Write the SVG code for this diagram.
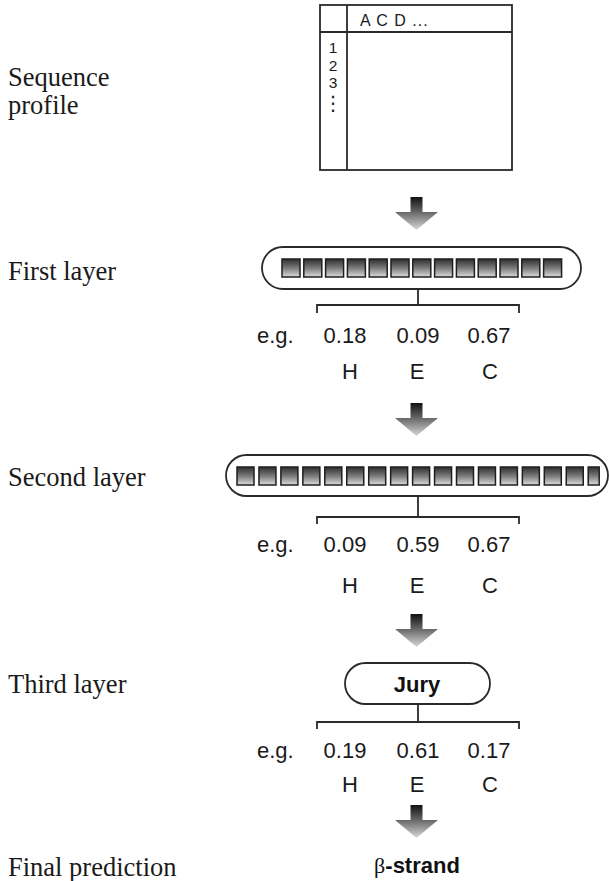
<svg xmlns="http://www.w3.org/2000/svg" width="609" height="881" viewBox="0 0 609 881">
<style>
.lbl{font-family:"Liberation Serif","Times New Roman",serif;font-size:26.5px;fill:#1a1a1a}
.val{font-family:"Liberation Sans",Arial,sans-serif;font-size:22px;fill:#1a1a1a}
.tbl{font-family:"Liberation Sans",Arial,sans-serif;fill:#1a1a1a}
.bold{font-family:"Liberation Sans",Arial,sans-serif;font-size:22px;font-weight:bold;fill:#111}
.ln{stroke:#2a2a2a;stroke-width:1.8;fill:none}
.cap{stroke:#2a2a2a;stroke-width:1.8;fill:#fff}
.sq{fill:url(#sqg);stroke:#1e1e1e;stroke-width:1.5}
</style>
<defs>
<linearGradient id="sqg" x1="0" y1="0" x2="0" y2="1">
<stop offset="0" stop-color="#2e2e2e"/>
<stop offset="0.5" stop-color="#7a7a7a"/>
<stop offset="1" stop-color="#dcdcdc"/>
</linearGradient>
<linearGradient id="arg" x1="0" y1="0" x2="0" y2="1">
<stop offset="0" stop-color="#111"/>
<stop offset="0.45" stop-color="#666"/>
<stop offset="1" stop-color="#d8d8d8"/>
</linearGradient>
<path id="arrow" d="M -6 0 H 6 V 15 H 21.5 L 0 33 L -21.5 15 H -6 Z" fill="url(#arg)"/>
</defs>
<rect width="609" height="881" fill="#fff"/>

<g id="labels">
<text class="lbl" x="8" y="86" font-size="25.5">Sequence</text>
<text class="lbl" x="8" y="114" font-size="25.5">profile</text>
<text class="lbl" x="8" y="280">First layer</text>
<text class="lbl" x="8" y="486">Second layer</text>
<text class="lbl" x="8" y="693">Third layer</text>
<text class="lbl" x="8" y="876">Final prediction</text>
</g>

<g id="profile">
<rect x="320" y="5" width="192" height="165" class="ln" stroke-width="2"/>
<line x1="347" y1="5" x2="347" y2="170" class="ln" stroke-width="2"/>
<line x1="320" y1="32" x2="512" y2="32" class="ln" stroke-width="2"/>
<text class="tbl" x="360" y="26" font-size="16" letter-spacing="1">A C D ...</text>
<text class="tbl" x="333" y="53" font-size="15.5" text-anchor="middle">1</text>
<text class="tbl" x="333" y="70.5" font-size="15.5" text-anchor="middle">2</text>
<text class="tbl" x="333" y="88" font-size="15.5" text-anchor="middle">3</text>
<text x="333" y="110" font-size="20" text-anchor="middle" font-family="DejaVu Sans,sans-serif" fill="#1a1a1a">⋮</text>
</g>

<g id="first-layer">
<rect x="262" y="247" width="319" height="42" rx="21" class="cap"/>
<rect class="sq" x="282" y="259" width="18" height="18"/>
<rect class="sq" x="303.8" y="259" width="18" height="18"/>
<rect class="sq" x="325.6" y="259" width="18" height="18"/>
<rect class="sq" x="347.4" y="259" width="18" height="18"/>
<rect class="sq" x="369.2" y="259" width="18" height="18"/>
<rect class="sq" x="391" y="259" width="18" height="18"/>
<rect class="sq" x="412.8" y="259" width="18" height="18"/>
<rect class="sq" x="434.6" y="259" width="18" height="18"/>
<rect class="sq" x="456.4" y="259" width="18" height="18"/>
<rect class="sq" x="478.2" y="259" width="18" height="18"/>
<rect class="sq" x="500" y="259" width="18" height="18"/>
<rect class="sq" x="521.8" y="259" width="18" height="18"/>
<rect class="sq" x="543.6" y="259" width="18" height="18"/>
</g>
<g id="first-output">
<text class="val" x="257" y="343">e.g.</text>
<text class="val" x="345" y="343" text-anchor="middle">0.18</text>
<text class="val" x="418" y="343" text-anchor="middle">0.09</text>
<text class="val" x="489" y="343" text-anchor="middle">0.67</text>
<text class="val" x="350" y="379" text-anchor="middle">H</text>
<text class="val" x="417" y="379" text-anchor="middle">E</text>
<text class="val" x="490" y="379" text-anchor="middle">C</text>
</g>

<g id="second-layer">
<rect x="226" y="455" width="382" height="41" rx="20.5" class="cap"/>
<rect class="sq" x="237" y="467" width="17" height="18"/>
<rect class="sq" x="258.95" y="467" width="17" height="18"/>
<rect class="sq" x="280.9" y="467" width="17" height="18"/>
<rect class="sq" x="302.85" y="467" width="17" height="18"/>
<rect class="sq" x="324.8" y="467" width="17" height="18"/>
<rect class="sq" x="346.75" y="467" width="17" height="18"/>
<rect class="sq" x="368.7" y="467" width="17" height="18"/>
<rect class="sq" x="390.65" y="467" width="17" height="18"/>
<rect class="sq" x="412.6" y="467" width="17" height="18"/>
<rect class="sq" x="434.55" y="467" width="17" height="18"/>
<rect class="sq" x="456.5" y="467" width="17" height="18"/>
<rect class="sq" x="478.45" y="467" width="17" height="18"/>
<rect class="sq" x="500.4" y="467" width="17" height="18"/>
<rect class="sq" x="522.35" y="467" width="17" height="18"/>
<rect class="sq" x="544.3" y="467" width="17" height="18"/>
<rect class="sq" x="566.25" y="467" width="17" height="18"/>
<rect class="sq" x="588.2" y="467" width="11" height="18"/>
</g>
<g id="second-output">
<text class="val" x="257" y="552">e.g.</text>
<text class="val" x="345" y="552" text-anchor="middle">0.09</text>
<text class="val" x="418" y="552" text-anchor="middle">0.59</text>
<text class="val" x="489" y="552" text-anchor="middle">0.67</text>
<text class="val" x="350" y="593" text-anchor="middle">H</text>
<text class="val" x="417" y="593" text-anchor="middle">E</text>
<text class="val" x="490" y="593" text-anchor="middle">C</text>
</g>

<g id="third-layer">
<rect x="345" y="663" width="145" height="41" rx="20.5" class="cap"/>
<text class="bold" x="417" y="692" text-anchor="middle">Jury</text>
</g>
<g id="third-output">
<text class="val" x="257" y="758">e.g.</text>
<text class="val" x="345" y="758" text-anchor="middle">0.19</text>
<text class="val" x="418" y="758" text-anchor="middle">0.61</text>
<text class="val" x="489" y="758" text-anchor="middle">0.17</text>
<text class="val" x="350" y="792" text-anchor="middle">H</text>
<text class="val" x="417" y="792" text-anchor="middle">E</text>
<text class="val" x="490" y="792" text-anchor="middle">C</text>
</g>

<g id="final-prediction">
<text class="bold" x="417" y="873" text-anchor="middle"><tspan font-family="Liberation Serif,serif" font-weight="normal">β</tspan>-strand</text>
</g>

<g id="connectors">
<use href="#arrow" x="416.5" y="197"/>
<use href="#arrow" x="416.5" y="403"/>
<use href="#arrow" x="416.5" y="614"/>
<use href="#arrow" x="416.5" y="805"/>
<path class="ln" d="M418 289 V305 M317 313 V305 H519 V313"/>
<path class="ln" d="M418 496 V517 M317 524 V517 H519 V524"/>
<path class="ln" d="M418 704 V722 M317 729 V722 H519 V729"/>
</g>
</svg>
